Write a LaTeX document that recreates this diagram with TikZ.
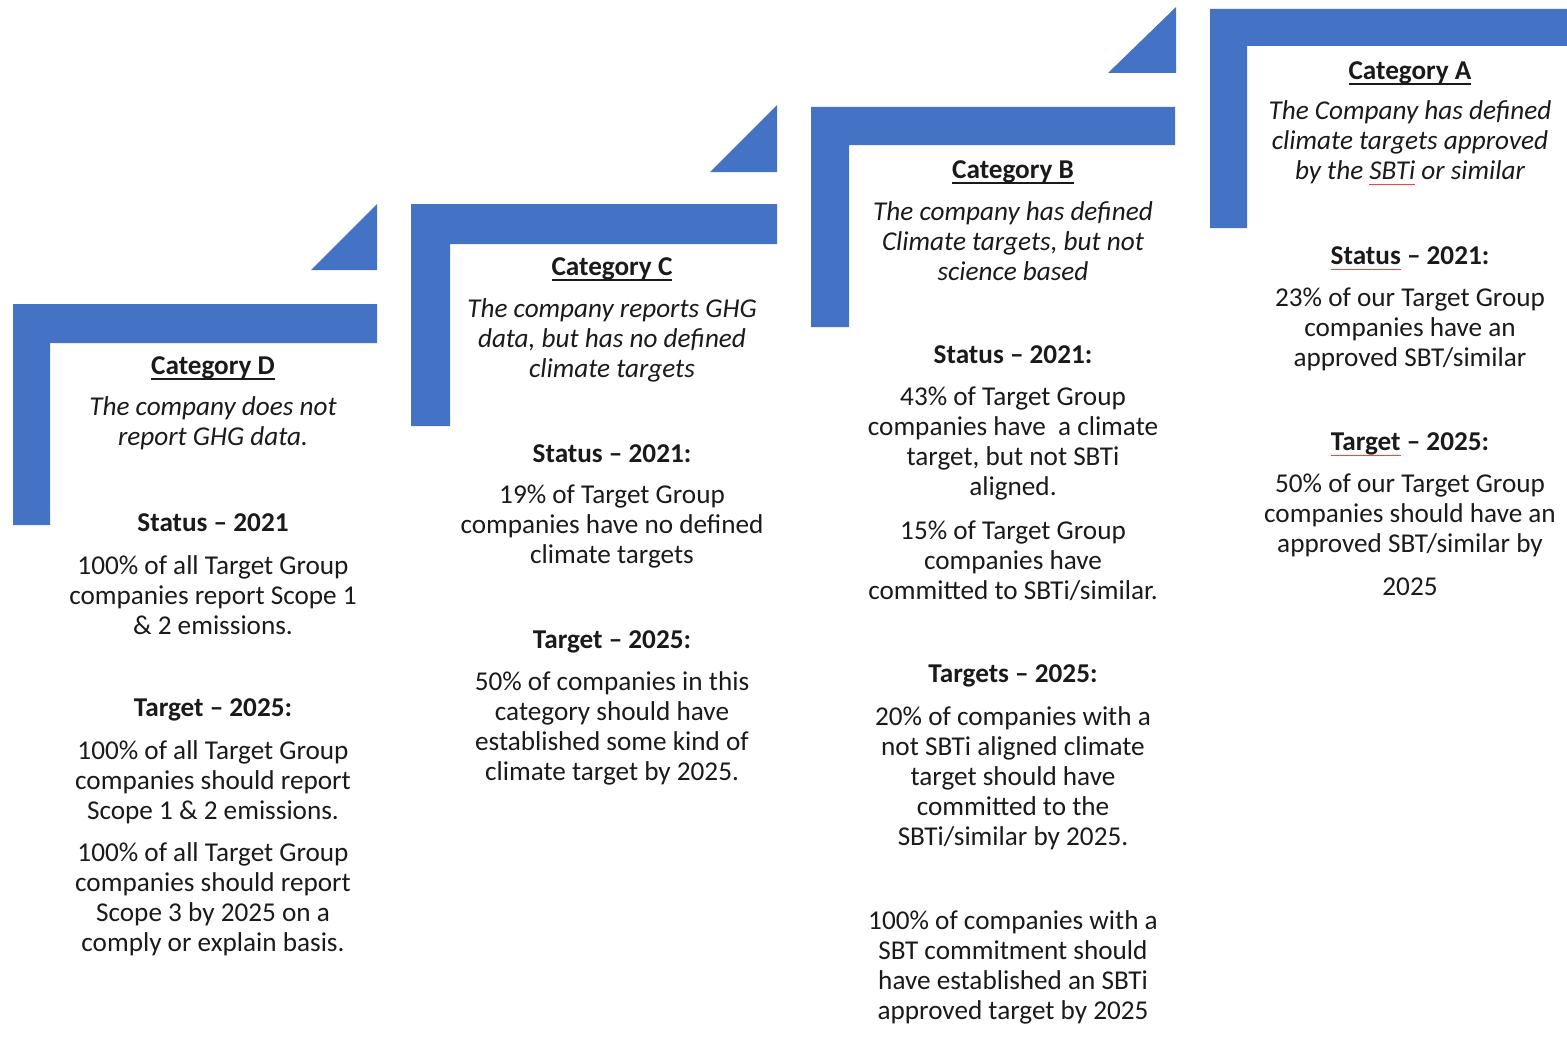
\documentclass[tikz,border=0pt]{standalone}
\usepackage{fontspec}
\setmainfont{Carlito}
\definecolor{barblue}{HTML}{4472C4}
\definecolor{txt}{HTML}{1A1A1A}
\newcommand\redul[1]{\setbox0\hbox{#1}\rlap{\color{red!75}\rule[-2.6pt]{\wd0}{0.5pt}}\box0\relax}
\newcommand\headul[1]{\setbox0\hbox{#1}\rlap{\rule[-2.6pt]{\wd0}{0.6pt}}\box0\relax}
\begin{document}
\begin{tikzpicture}[x=0.5pt,y=-0.5pt,
  txtb/.style={align=center, font=\fontsize{13.6}{15}\selectfont, text=txt, inner sep=0pt},
  ital/.style={txtb, font=\fontsize{13.6}{15}\selectfont\itshape},
  bld/.style={txtb, font=\fontsize{13.6}{15}\selectfont\bfseries},
  bar/.style={fill=barblue}]
\useasboundingbox (0,0) rectangle (1567,1038);
% L-shaped bars
\fill[bar] (13,304) -- (377,304) -- (377,343) -- (50,343) -- (50,525) -- (13,525) -- cycle;
\fill[bar] (411,204) -- (777,204) -- (777,244) -- (450,244) -- (450,426) -- (411,426) -- cycle;
\fill[bar] (811,107) -- (1175,107) -- (1175,145) -- (849,145) -- (849,327) -- (811,327) -- cycle;
\fill[bar] (1210,9) -- (1567,9) -- (1567,46) -- (1247,46) -- (1247,228) -- (1210,228) -- cycle;
% triangles
\fill[bar] (311,270) -- (377,270) -- (377,204) -- cycle;
\fill[bar] (710,172) -- (777,172) -- (777,105) -- cycle;
\fill[bar] (1108,73) -- (1176,73) -- (1176,7) -- cycle;
\begin{scope}[yshift=-1pt]
% Category D
\node[bld] (dh) at (213,366) {\headul{Category D}};
\node[ital] (dd) at (213,421.5) {The company does not\\report GHG data.};
\node[bld] (ds) at (213,521) {Status -- 2021};
\node[txtb] (dsp) at (213,593.5) {100\% of all Target Group\\companies report Scope 1\\\& 2 emissions.};
\node[bld] (dt) at (213,708) {Target -- 2025:};
\node[txtb] (dtp1) at (213,780) {100\% of all Target Group\\companies should report\\Scope 1 \& 2 emissions.};
\node[txtb] (dtp2) at (213,897) {100\% of all Target Group\\companies should report\\Scope 3 by 2025 on a\\comply or explain basis.};
% Category C
\node[bld] (ch) at (612,267) {\headul{Category C}};
\node[ital] (cd) at (612,338.5) {The company reports GHG\\data, but has no defined\\climate targets};
\node[bld] (cs) at (612,452) {Status -- 2021:};
\node[txtb] (csp) at (612,525) {19\% of Target Group\\companies have no defined\\climate targets};
\node[bld] (ct) at (612,640) {Target -- 2025:};
\node[txtb] (ctp) at (612,726) {50\% of companies in this\\category should have\\established some kind of\\climate target by 2025.};
% Category B
\node[bld] (bh) at (1013,170) {\headul{Category B}};
\node[ital] (bd) at (1013,239.5) {The company has defined\\Climate targets, but not\\science based};
\node[bld] (bs) at (1013,353) {Status -- 2021:};
\node[txtb] (bsp1) at (1013,441.5) {43\% of Target Group\\companies have\ \ a climate\\target, but not SBTi\\aligned.};
\node[txtb] (bsp2) at (1013,558.5) {15\% of Target Group\\companies have\\committed to SBTi/similar.};
\node[bld] (bt) at (1013,674) {Targets -- 2025:};
\node[txtb] (btp1) at (1013,776) {20\% of companies with a\\not SBTi aligned climate\\target should have\\committed to the\\SBTi/similar by 2025.};
\node[txtb] (btp2) at (1013,965.5) {100\% of companies with a\\SBT commitment should\\have established an SBTi\\approved target by 2025};
% Category A
\node[bld] (ah) at (1410,71) {\headul{Category A}};
\node[ital] (ad) at (1410,140.5) {The Company has defined\\climate targets approved\\by the \redul{SBTi} or similar};
\node[bld] (as) at (1410,256) {\redul{Status} -- 2021:};
\node[txtb] (asp) at (1410,327.5) {23\% of our Target Group\\companies have an\\approved SBT/similar};
\node[bld] (at) at (1410,442) {\redul{Target} -- 2025:};
\node[txtb] (atp) at (1410,513.5) {50\% of our Target Group\\companies should have an\\approved SBT/similar by};
\node[txtb] (aty) at (1410,585) {2025};
\end{scope}
\end{tikzpicture}
\end{document}
